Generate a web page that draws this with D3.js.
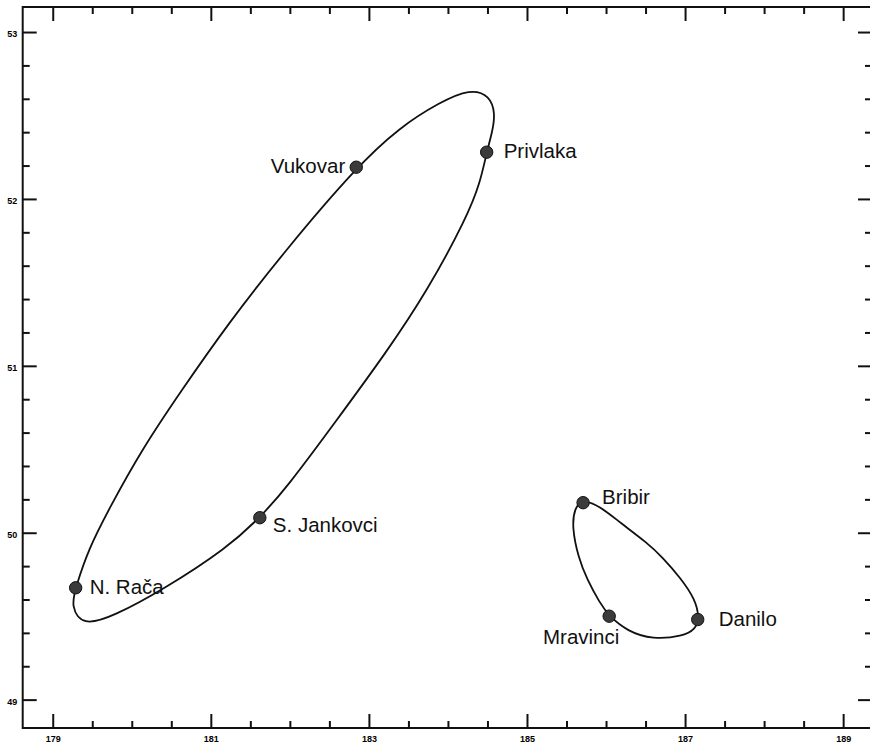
<!DOCTYPE html>
<html>
<head>
<meta charset="utf-8">
<script src="https://cdn.jsdelivr.net/npm/d3@7"></script>
<style>
    html, body { margin: 0; padding: 0; background: #fff; }
    svg { display: block; }
</style>
</head>
<body>
<div id="chart"></div>
<script>
// sites (x, y)
const siteNames = ["Vukovar", "Privlaka", "S. Jankovci", "N. Rača", "Bribir", "Mravinci", "Danilo"];
const siteX = [182.84, 184.49, 181.62, 179.29, 185.71, 186.04, 187.16];
const siteY = [52.19, 52.28, 50.09, 49.67, 50.18, 49.50, 49.48];

// outlines of the two groups
const northLoop = [
    [179.29, 49.67], [179.45, 49.90], [179.72, 50.15], [180.13, 50.50], [180.61, 50.84],
    [181.23, 51.26], [181.94, 51.69], [182.84, 52.19], [183.39, 52.43], [183.90, 52.58],
    [184.28, 52.66], [184.53, 52.62], [184.60, 52.51], [184.56, 52.40], [184.49, 52.28],
    [184.41, 52.10], [184.24, 51.89], [183.74, 51.45], [183.22, 51.08], [182.57, 50.66],
    [181.96, 50.27], [181.62, 50.09], [181.21, 49.91], [180.40, 49.66], [179.77, 49.50],
    [179.38, 49.44], [179.23, 49.56]
];
const southLoop = [
    [185.71, 50.20], [185.92, 50.16], [186.18, 50.06], [186.52, 49.94], [186.72, 49.85],
    [186.94, 49.73], [187.13, 49.60], [187.18, 49.49], [187.13, 49.42], [186.97, 49.38],
    [186.59, 49.36], [186.27, 49.41], [186.04, 49.50], [185.92, 49.58], [185.76, 49.72],
    [185.65, 49.85], [185.57, 50.03], [185.60, 50.15]
];

const xTickLabels = [179, 181, 183, 185, 187, 189];
const xMinorTicks = [179.5, 180, 180.5, 181.5, 182, 182.5, 183.5, 184, 184.5, 185.5, 186, 186.5, 187.5, 188, 188.5];
const yTickLabels = [49, 50, 51, 52, 53];
const yMinorTicks = [49.2, 49.4, 49.6, 49.8, 50.2, 50.4, 50.6, 50.8, 51.2, 51.4, 51.6, 51.8, 52.2, 52.4, 52.6, 52.8];

const W = 870, H = 744;
const frame = { left: 22.7, right: 872, top: 7, bottom: 728 };

const x = d3.scaleLinear().domain([178.62, 189.365]).range([frame.left, frame.right]);
const y = d3.scaleLinear().domain([48.83, 53.15]).range([frame.bottom, frame.top]);

const svg = d3.select("#chart")
    .append("svg")
    .attr("width", W)
    .attr("height", H);

// frame
svg.append("rect")
    .attr("x", frame.left)
    .attr("y", frame.top)
    .attr("width", frame.right - frame.left)
    .attr("height", frame.bottom - frame.top)
    .attr("fill", "none")
    .attr("stroke", "#111")
    .attr("stroke-width", 2);

function styleAxis(g) {
    g.select(".domain").remove();
    g.selectAll(".tick line").attr("stroke", "#111").attr("stroke-width", 2);
    g.selectAll(".tick text")
        .attr("fill", "#000")
        .style("font-family", "'Liberation Sans', Arial, Helvetica, sans-serif")
        .style("font-size", "9px")
        .style("font-weight", "bold");
}

// bottom axis
svg.append("g")
    .attr("transform", `translate(0,${frame.bottom})`)
    .call(d3.axisBottom(x).tickValues(xTickLabels).tickSize(-14).tickPadding(7.5).tickFormat(d3.format("d")))
    .call(styleAxis);
svg.append("g")
    .attr("transform", `translate(0,${frame.bottom})`)
    .call(d3.axisBottom(x).tickValues(xMinorTicks).tickSize(-7).tickFormat(""))
    .call(styleAxis);

// top axis
svg.append("g")
    .attr("transform", `translate(0,${frame.top})`)
    .call(d3.axisTop(x).tickValues(xTickLabels).tickSize(-14).tickFormat(""))
    .call(styleAxis);
svg.append("g")
    .attr("transform", `translate(0,${frame.top})`)
    .call(d3.axisTop(x).tickValues(xMinorTicks).tickSize(-7).tickFormat(""))
    .call(styleAxis);

// left axis
svg.append("g")
    .attr("transform", `translate(${frame.left},0)`)
    .call(d3.axisLeft(y).tickValues(yTickLabels).tickSize(-14).tickPadding(5.5).tickFormat(d3.format("d")))
    .call(styleAxis)
    .selectAll(".tick text").attr("dy", "0.5em");
svg.append("g")
    .attr("transform", `translate(${frame.left},0)`)
    .call(d3.axisLeft(y).tickValues(yMinorTicks).tickSize(-7).tickFormat(""))
    .call(styleAxis);

// right axis
svg.append("g")
    .attr("transform", `translate(${frame.right},0)`)
    .call(d3.axisRight(y).tickValues(yTickLabels).tickSize(-14).tickFormat(""))
    .call(styleAxis);
svg.append("g")
    .attr("transform", `translate(${frame.right},0)`)
    .call(d3.axisRight(y).tickValues(yMinorTicks).tickSize(-7).tickFormat(""))
    .call(styleAxis);

// group loops, smoothed through the outline points
const loop = d3.line()
    .x(d => x(d[0]))
    .y(d => y(d[1]))
    .curve(d3.curveBasisClosed);

svg.selectAll(".loop")
    .data([northLoop, southLoop])
    .enter()
    .append("path")
    .attr("class", "loop")
    .attr("d", loop)
    .attr("fill", "none")
    .attr("stroke", "#111")
    .attr("stroke-width", 1.8);

const sites = siteNames.map((name, i) => ({ name, x: siteX[i], y: siteY[i] }));

// where each label sits relative to its dot
const labelPos = {
    "Vukovar": { dx: -11, dy: 6, anchor: "end" },
    "Privlaka": { dx: 17, dy: 6, anchor: "start" },
    "S. Jankovci": { dx: 13, dy: 14, anchor: "start" },
    "N. Rača": { dx: 14, dy: 6, anchor: "start" },
    "Bribir": { dx: 19, dy: 1, anchor: "start" },
    "Mravinci": { dx: -28, dy: 28, anchor: "middle" },
    "Danilo": { dx: 21, dy: 6, anchor: "start" }
};

svg.selectAll(".dot")
    .data(sites)
    .enter()
    .append("circle")
    .attr("class", "dot")
    .attr("cx", d => x(d.x))
    .attr("cy", d => y(d.y))
    .attr("r", 6.2)
    .attr("fill", "#3b3b3b")
    .attr("stroke", "#111")
    .attr("stroke-width", 1);

svg.selectAll(".site-label")
    .data(sites)
    .enter()
    .append("text")
    .attr("class", "site-label")
    .attr("x", d => x(d.x) + labelPos[d.name].dx)
    .attr("y", d => y(d.y) + labelPos[d.name].dy)
    .attr("text-anchor", d => labelPos[d.name].anchor)
    .style("font-family", "'Liberation Sans', Arial, Helvetica, sans-serif")
    .style("font-size", "20.5px")
    .style("fill", "#111")
    .text(d => d.name);
</script>
</body>
</html>
